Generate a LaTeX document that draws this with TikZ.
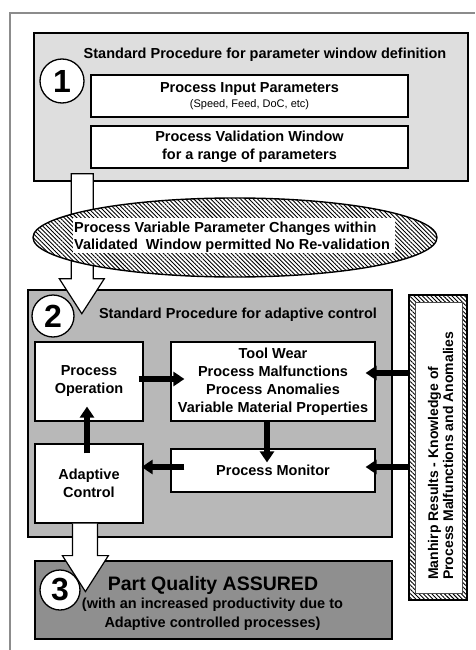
\documentclass[tikz,border=0pt]{standalone}
\usepackage{fontspec}
\setmainfont{Liberation Sans}
\usetikzlibrary{arrows.meta,patterns.meta,calc}
\definecolor{panelA}{gray}{0.87}
\definecolor{panelB}{gray}{0.72}
\definecolor{panelC}{gray}{0.56}
\definecolor{framegray}{gray}{0.55}
\begin{document}
\begin{tikzpicture}[x=1pt,y=-1pt,
  panel/.style={draw=black, line width=1.4pt, inner sep=0pt},
  inbox/.style={draw=black, line width=1.2pt, fill=white, inner sep=0pt, align=center,
                font=\bfseries\fontsize{14.5}{18}\selectfont},
  title/.style={inner sep=0pt, font=\bfseries\fontsize{14.5}{17}\selectfont},
  num/.style={circle, draw=black, line width=1.3pt, fill=white, inner sep=0pt,
              font=\bfseries\fontsize{32}{32}\selectfont},
  flow/.style={line width=5.5pt, -{Triangle[length=11pt,width=14pt]}},
  hollow/.style={draw=black, line width=1.2pt, line join=miter},
  hatch/.style={pattern={Lines[angle=-45,distance=3pt,line width=0.9pt]}}
]
\useasboundingbox (0,0) rectangle (475,650);
% outer frame
\draw[framegray, line width=1.5pt] (10,650) -- (10,13) -- (475,13);

% ---------- panel 1
\node[panel, fill=panelA, minimum width=434pt, minimum height=148pt] (p1) at (251,107) {};
\node[title] (t1) at (265,55) {Standard Procedure for parameter window definition};
\node[inbox, minimum width=317pt, minimum height=42pt] (ip) at (249.5,96)
  {Process Input Parameters\\[-3pt]{\mdseries\fontsize{11}{13}\selectfont(Speed, Feed, DoC, etc)}};
\node[inbox, minimum width=317pt, minimum height=42pt] (vw) at (249.5,147)
  {Process Validation Window\\for a range of parameters};
\node[num, minimum size=44pt] (n1) at (62,81) {1};

% ---------- panel 2 and panel 3
\node[panel, fill=panelB, minimum width=364pt, minimum height=247pt] (p2) at (210,413.5) {};
\node[panel, fill=panelC, minimum width=357pt, minimum height=78pt] (p3) at (213.5,600) {};

% hollow arrow 1 (panel 1 -> panel 2)
\coordinate (a1top) at ($(p1.south west)+(38,-8)$);
\fill[white] (a1top) -- ++(0,105) -- ++(-12,0) -- ++(22.5,35) -- ++(22.5,-35) -- ++(-11,0) -- ++(0,-105) -- cycle;
\draw[hollow] (a1top) -- ++(0,105) -- ++(-12,0) -- ++(22.5,35) -- ++(22.5,-35) -- ++(-11,0) -- ++(0,-105) -- cycle;

% ellipse
\fill[white] (235,237.5) ellipse [x radius=202, y radius=39.5];
\draw[black, line width=1.4pt, hatch] (235,237.5) ellipse [x radius=202, y radius=39.5];
\fill[white] (73,218) rectangle (395,253);
\node[inner sep=0pt, anchor=west, align=left, font=\bfseries\fontsize{14.5}{17}\selectfont] (ev) at (74,237.5)
  {Process Variable Parameter Changes within\\Validated\ \ Window permitted No Re-validation};

% panel 2 content
\node[title] (t2) at (238,315) {Standard Procedure for adaptive control};
\node[num, minimum size=42pt] (n2) at (53,316) {2};
\node[inbox, minimum width=108pt, minimum height=79pt] (po) at (89,381.5) {Process\\Operation};
\node[inbox, minimum width=204pt, minimum height=79pt] (tw) at (273,381.5)
  {Tool Wear\\Process Malfunctions\\Process Anomalies\\Variable Material Properties};
\node[inbox, minimum width=204pt, minimum height=43pt] (pm) at (273,470.5) {Process Monitor};
\node[inbox, minimum width=108pt, minimum height=79pt] (ac) at (89,483.5) {Adaptive\\Control};

% right hatched box
\node[draw=black, line width=1.2pt, hatch, preaction={fill=white}, minimum width=58pt, minimum height=305pt, inner sep=0pt] (rb) at (438,447.5) {};
\fill[white] (415,302) rectangle (462,593);
\draw[black!70, line width=0.4pt] (415,302) rectangle (462,593);
\node[rotate=90, anchor=west, align=left, inner sep=0pt, font=\bfseries\fontsize{14}{15}\selectfont] (rt) at (440.5,580)
  {Manhirp Results - Knowledge of\\Process Malfunctions and Anomalies};

% black flow arrows
\draw[flow] ($(po.east)+(-5,-2.5)$) -- ($(tw.west)+(14,-2.5)$);
\draw[flow] ($(rb.west |- tw.east)+(1,-8.5)$) -- ($(tw.east)+(-10,-8.5)$);
\draw[flow] ($(tw.south)+(-6,-1)$) -- ($(pm.north)+(-6,14)$);
\draw[flow] ($(pm.west)+(14,-3.5)$) -- ($(ac.east |- pm.west)+(-2,-3.5)$);
\draw[flow] ($(rb.west |- pm.east)+(1,-3.5)$) -- ($(pm.east)+(-10,-3.5)$);
\draw[flow] ($(ac.north)+(-2,10)$) -- ($(po.south)+(-2,-15)$);

% hollow arrow 2 (panel 2 -> panel 3)
\coordinate (a2top) at ($(ac.south west)+(38,0)$);
\fill[white] (a2top) -- ++(0,32) -- ++(-10,0) -- ++(23,36) -- ++(23,-36) -- ++(-11,0) -- ++(0,-32) -- cycle;
\draw[hollow] (a2top) -- ++(0,32) -- ++(-10,0) -- ++(23,36) -- ++(23,-36) -- ++(-11,0) -- ++(0,-32);

% panel 3 content
\node[num, minimum size=40pt] (n3) at (60,590) {3};
\node[inner sep=0pt, font=\bfseries\fontsize{19.5}{20}\selectfont] (pq) at (213,585) {Part Quality ASSURED};
\node[inner sep=0pt, align=center, font=\bfseries\fontsize{14.5}{19}\selectfont] (pq2) at (212.5,614.5)
  {(with an increased productivity due to\\Adaptive controlled processes)};
\end{tikzpicture}
\end{document}
